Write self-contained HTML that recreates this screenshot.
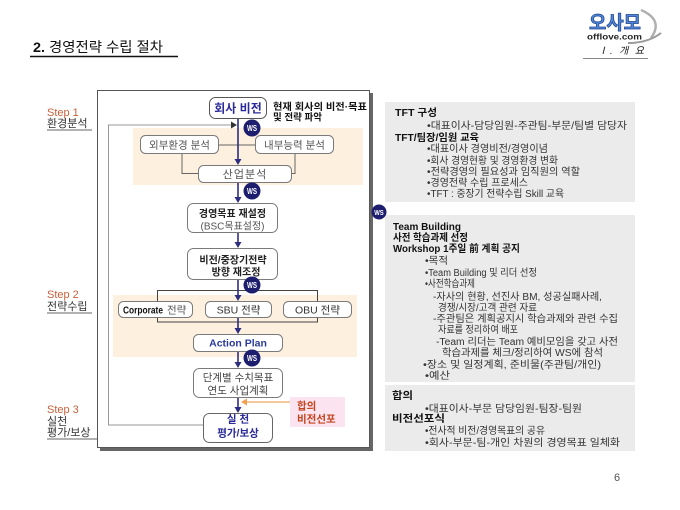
<!DOCTYPE html>
<html lang="ko">
<head>
<meta charset="utf-8">
<style>
  html,body{margin:0;padding:0;background:#fff;}
  body{width:680px;height:510px;overflow:hidden;}
  svg{display:block;}
  text{font-family:"Liberation Sans","Noto Sans CJK KR",sans-serif;}
</style>
</head>
<body>
<svg width="680" height="510" viewBox="0 0 680 510" xmlns="http://www.w3.org/2000/svg">
  <rect x="0" y="0" width="680" height="510" fill="#fff"/>

  <!-- Header -->
  <text x="33" y="52" font-size="14" fill="#111" textLength="130" lengthAdjust="spacingAndGlyphs"><tspan font-weight="bold">2.</tspan> 경영전략 수립 절차</text>
  <line x1="30" y1="56.5" x2="178" y2="56.5" stroke="#111" stroke-width="1.5"/>
  <text x="598" y="54" font-size="10" font-style="italic" fill="#222" textLength="46" lengthAdjust="spacing">Ⅰ. 개 요</text>
  <line x1="583" y1="58.5" x2="648" y2="58.5" stroke="#888" stroke-width="1"/>

  <!-- Logo -->
  <path d="M641 10 Q664 20 651 38" stroke="#b0b0b0" stroke-width="2.5" fill="none"/>
  <path d="M628 43 Q648 43 661 33" stroke="#9a9a9a" stroke-width="2" fill="none"/>
  <text x="589" y="29" font-size="19" font-weight="bold" fill="#4f86d6" stroke="#1d3f8a" stroke-width="0.7" textLength="52" lengthAdjust="spacingAndGlyphs">오사모</text>
  <text x="587" y="39.5" font-size="8.5" font-weight="bold" fill="#222" textLength="55" lengthAdjust="spacingAndGlyphs">offlove.com</text>

  <!-- Step labels -->
  <text x="47" y="116" font-size="11" fill="#c8603a">Step 1</text>
  <text x="47" y="127" font-size="11" fill="#333">환경분석</text>
  <line x1="47" y1="130" x2="92" y2="130" stroke="#333" stroke-width="0.8"/>

  <text x="47" y="298" font-size="11" fill="#c8603a">Step 2</text>
  <text x="47" y="310" font-size="11" fill="#333">전략수립</text>
  <line x1="47" y1="313" x2="92" y2="313" stroke="#333" stroke-width="0.8"/>

  <text x="47" y="413" font-size="11" fill="#c8603a">Step 3</text>
  <text x="47" y="425" font-size="11" fill="#333">실천</text>
  <text x="47" y="436" font-size="11" fill="#333">평가/보상</text>
  <line x1="47" y1="439" x2="98" y2="439" stroke="#333" stroke-width="0.8"/>

  <!-- Main frame with shadow -->
  <rect x="100" y="93" width="273" height="358" fill="#666"/>
  <rect x="97.5" y="90.5" width="272" height="357" fill="#fff" stroke="#555" stroke-width="1"/>

  <!-- Peach regions -->
  <rect x="133" y="128" width="230" height="57" fill="#fdf0df"/>
  <rect x="113" y="295" width="244" height="62" fill="#fdf0df"/>

  <!-- Feedback loop -->
  <polyline points="203,425 108.5,425 108.5,125 232,125" fill="none" stroke="#999" stroke-width="1"/>
  <polygon points="231,121.5 231,128.5 237,125" fill="#333"/>

  <!-- Connectors in region 1 -->
  <line x1="219" y1="145" x2="255" y2="145" stroke="#666" stroke-width="1"/>
  <polyline points="182,153 182,173.5 198,173.5" fill="none" stroke="#666" stroke-width="1"/>
  <polyline points="295,153 295,173.5 292,173.5" fill="none" stroke="#666" stroke-width="1"/>

  <!-- Bracket in region 2 -->
  <rect x="157.5" y="290.5" width="160" height="31.5" fill="none" stroke="#444" stroke-width="1"/>

  <!-- Central navy lines -->
  <g stroke="#2e2e80" stroke-width="1.6">
    <line x1="238" y1="118" x2="238" y2="160"/>
    <line x1="238" y1="182" x2="238" y2="198"/>
    <line x1="238" y1="232" x2="238" y2="243"/>
    <line x1="238" y1="280" x2="238" y2="296"/>
    <line x1="238" y1="317" x2="238" y2="329"/>
    <line x1="238" y1="351" x2="238" y2="363"/>
    <line x1="238" y1="397" x2="238" y2="408"/>
  </g>
  <g fill="#2e2e80">
    <polygon points="234.5,159 241.5,159 238,165"/>
    <polygon points="234.5,197 241.5,197 238,203"/>
    <polygon points="234.5,242 241.5,242 238,248"/>
    <polygon points="234.5,295 241.5,295 238,301"/>
    <polygon points="234.5,328 241.5,328 238,334"/>
    <polygon points="234.5,362 241.5,362 238,368"/>
    <polygon points="234.5,407 241.5,407 238,413"/>
  </g>

  <!-- Orange arrow from pink box -->
  <line x1="290" y1="402" x2="246" y2="402" stroke="#f2b57c" stroke-width="1.5"/>
  <polygon points="241,402 247,398.5 247,405.5" fill="#f0a050"/>

  <!-- Boxes -->
  <g fill="#fff" stroke="#7a7a7a" stroke-width="1">
    <rect x="209.5" y="97.5" width="57" height="21" rx="6" stroke="#555"/>
    <rect x="140.5" y="135.5" width="78" height="18" rx="5"/>
    <rect x="255.5" y="135.5" width="78" height="18" rx="5"/>
    <rect x="198.5" y="165.5" width="93" height="17" rx="5"/>
    <rect x="187.5" y="203.5" width="90" height="29" rx="6"/>
    <rect x="187.5" y="248.5" width="90" height="31" rx="6"/>
    <rect x="118.5" y="301.5" width="74" height="16" rx="5"/>
    <rect x="205.5" y="301.5" width="66" height="16" rx="5"/>
    <rect x="283.5" y="301.5" width="68" height="16" rx="5"/>
    <rect x="193.5" y="334.5" width="89" height="17" rx="5"/>
    <rect x="193.5" y="368.5" width="89" height="29" rx="6"/>
    <rect x="203.5" y="413.5" width="69" height="29" rx="6" stroke="#666"/>
  </g>
  <rect x="290" y="397" width="55" height="30" fill="#fbe3f0"/>

  <!-- Box texts -->
  <text x="238" y="112.5" font-size="12" font-weight="bold" fill="#2a2a9a" text-anchor="middle">회사 비전</text>
  <text x="273" y="110" font-size="9.5" font-weight="bold" fill="#111" textLength="94" lengthAdjust="spacingAndGlyphs">현재 회사의 비전·목표</text>
  <text x="273" y="120.5" font-size="9.5" font-weight="bold" fill="#111">및 전략 파악</text>

  <text x="179.5" y="148.5" font-size="10.5" fill="#555" text-anchor="middle">외부환경 분석</text>
  <text x="294.5" y="148.5" font-size="10.5" fill="#555" text-anchor="middle">내부능력 분석</text>
  <text x="245" y="178" font-size="11" fill="#555" text-anchor="middle" letter-spacing="1">산업분석</text>

  <text x="232.5" y="217" font-size="10" font-weight="bold" fill="#222" text-anchor="middle">경영목표 재설정</text>
  <text x="232.5" y="229.5" font-size="10" fill="#555" text-anchor="middle">(BSC목표설정)</text>

  <text x="233" y="263.5" font-size="10" font-weight="bold" fill="#222" text-anchor="middle">비전/중장기전략</text>
  <text x="236" y="275.5" font-size="10" font-weight="bold" fill="#222" text-anchor="middle">방향 재조정</text>

  <text x="123" y="313.5" font-size="10.5" font-weight="bold" fill="#111" textLength="40" lengthAdjust="spacingAndGlyphs">Corporate</text>
  <text x="167" y="313.5" font-size="10.5" fill="#555">전략</text>
  <text x="238.5" y="313.5" font-size="10.5" fill="#333" text-anchor="middle">SBU 전략</text>
  <text x="317.5" y="313.5" font-size="10.5" fill="#333" text-anchor="middle">OBU 전략</text>

  <text x="238" y="346.5" font-size="10.5" font-weight="bold" fill="#2a3a9a" text-anchor="middle">Action Plan</text>

  <text x="238" y="381" font-size="10.5" fill="#444" text-anchor="middle">단계별 수치목표</text>
  <text x="238" y="394" font-size="10.5" fill="#444" text-anchor="middle">연도 사업계획</text>

  <text x="238" y="422.5" font-size="10.5" font-weight="bold" fill="#2a2a9a" text-anchor="middle">실 천</text>
  <text x="238" y="436.5" font-size="10.5" font-weight="bold" fill="#2a2a9a" text-anchor="middle">평가/보상</text>

  <text x="297" y="409.5" font-size="10.5" font-weight="bold" fill="#c4441e">합의</text>
  <text x="297" y="422.5" font-size="10.5" font-weight="bold" fill="#c4441e">비전선포</text>

  <!-- WS circles -->
  <g>
    <circle cx="252" cy="128" r="8.5" fill="#1e1e6e"/>
    <text x="252" y="131" font-size="8" font-weight="bold" fill="#fff" text-anchor="middle" textLength="10" lengthAdjust="spacingAndGlyphs">WS</text>
    <circle cx="252" cy="191" r="8.5" fill="#1e1e6e"/>
    <text x="252" y="194" font-size="8" font-weight="bold" fill="#fff" text-anchor="middle" textLength="10" lengthAdjust="spacingAndGlyphs">WS</text>
    <circle cx="252" cy="285" r="8.5" fill="#1e1e6e"/>
    <text x="252" y="288" font-size="8" font-weight="bold" fill="#fff" text-anchor="middle" textLength="10" lengthAdjust="spacingAndGlyphs">WS</text>
    <circle cx="252" cy="358" r="8.5" fill="#1e1e6e"/>
    <text x="252" y="361" font-size="8" font-weight="bold" fill="#fff" text-anchor="middle" textLength="10" lengthAdjust="spacingAndGlyphs">WS</text>
  </g>

  <!-- Right panels -->
  <rect x="385" y="102" width="250" height="100" fill="#ebebeb"/>
  <rect x="385" y="215" width="250" height="167" fill="#ebebeb"/>
  <rect x="385" y="385" width="250" height="66" fill="#ebebeb"/>

  <circle cx="379" cy="212" r="7.5" fill="#1e1e6e"/>
  <text x="379" y="215" font-size="7.5" font-weight="bold" fill="#fff" text-anchor="middle" textLength="9.5" lengthAdjust="spacingAndGlyphs">WS</text>

  <g font-size="10">
    <text x="395" y="116" font-weight="bold" fill="#111" textLength="42" lengthAdjust="spacingAndGlyphs">TFT 구성</text>
    <text x="427" y="129" fill="#333" textLength="200" lengthAdjust="spacingAndGlyphs">•대표이사-담당임원-주관팀-부문/팀별 담당자</text>
    <text x="395" y="141" font-weight="bold" fill="#111" textLength="84" lengthAdjust="spacingAndGlyphs">TFT/팀장/임원 교육</text>
    <text x="427" y="152" fill="#333" textLength="121" lengthAdjust="spacingAndGlyphs">•대표이사 경영비전/경영이념</text>
    <text x="427" y="164" fill="#333" textLength="131" lengthAdjust="spacingAndGlyphs">•회사 경영현황 및 경영환경 변화</text>
    <text x="427" y="175" fill="#333" textLength="153" lengthAdjust="spacingAndGlyphs">•전략경영의 필요성과 임직원의 역할</text>
    <text x="427" y="186" fill="#333" textLength="101" lengthAdjust="spacingAndGlyphs">•경영전략 수립 프로세스</text>
    <text x="427" y="197" fill="#333" textLength="137" lengthAdjust="spacingAndGlyphs">•TFT : 중장기 전략수립 Skill 교육</text>

    <text x="393" y="230" font-weight="bold" fill="#111" textLength="68" lengthAdjust="spacingAndGlyphs">Team Building</text>
    <text x="393" y="241" font-weight="bold" fill="#111" textLength="75" lengthAdjust="spacingAndGlyphs">사전 학습과제 선정</text>
    <text x="393" y="252" font-weight="bold" fill="#111" textLength="127" lengthAdjust="spacingAndGlyphs">Workshop 1주일 前 계획 공지</text>
    <text x="425" y="264" fill="#333" textLength="23" lengthAdjust="spacingAndGlyphs">•목적</text>
    <text x="425" y="276" fill="#333" textLength="112" lengthAdjust="spacingAndGlyphs">•Team Building 및  리더 선정</text>
    <text x="425" y="287" fill="#333" textLength="50" lengthAdjust="spacingAndGlyphs">•사전학습과제</text>
    <text x="433" y="300" fill="#333" textLength="169" lengthAdjust="spacingAndGlyphs">-자사의 현황, 선진사 BM, 성공실패사례,</text>
    <text x="438" y="311" fill="#333" textLength="99" lengthAdjust="spacingAndGlyphs">경쟁/시장/고객 관련 자료</text>
    <text x="433" y="322" fill="#333" textLength="185" lengthAdjust="spacingAndGlyphs">-주관팀은 계획공지시 학습과제와 관련 수집</text>
    <text x="438" y="333" fill="#333" textLength="80" lengthAdjust="spacingAndGlyphs">자료를 정리하여 배포</text>
    <text x="436" y="345" fill="#333" textLength="182" lengthAdjust="spacingAndGlyphs">-Team 리더는 Team 예비모임을 갖고 사전</text>
    <text x="442" y="356" fill="#333" textLength="161" lengthAdjust="spacingAndGlyphs">학습과제를 체크/정리하여 WS에 참석</text>
    <text x="423" y="368" fill="#333" textLength="178" lengthAdjust="spacingAndGlyphs">•장소 및 일정계획, 준비물(주관팀/개인)</text>
    <text x="425" y="379" fill="#333" textLength="25" lengthAdjust="spacingAndGlyphs">•예산</text>

    <text x="392" y="399" font-weight="bold" fill="#111" textLength="21" lengthAdjust="spacingAndGlyphs">합의</text>
    <text x="425" y="412" fill="#333" textLength="157" lengthAdjust="spacingAndGlyphs">•대표이사-부문 담당임원-팀장-팀원</text>
    <text x="392" y="422" font-weight="bold" fill="#111" textLength="53" lengthAdjust="spacingAndGlyphs">비전선포식</text>
    <text x="425" y="434" fill="#333" textLength="120" lengthAdjust="spacingAndGlyphs">•전사적 비전/경영목표의 공유</text>
    <text x="425" y="446" fill="#333" textLength="195" lengthAdjust="spacingAndGlyphs">•회사-부문-팀-개인 차원의 경영목표 일체화</text>
  </g>

  <!-- Page number -->
  <text x="614" y="481" font-size="11" fill="#555">6</text>
</svg>
</body>
</html>
